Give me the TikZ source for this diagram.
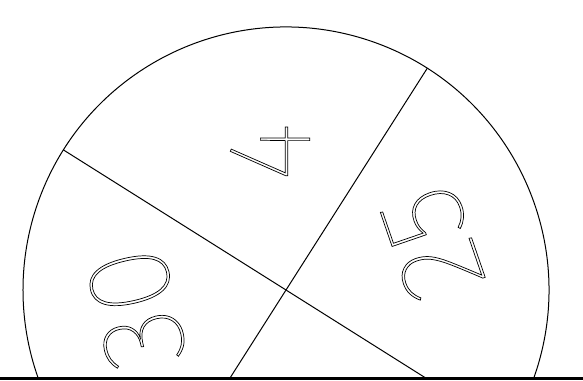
\documentclass[tikz,border=0pt]{standalone}
\usepackage{fontspec}
\IfFontExistsTF{Fira Sans Thin}{\newfontfamily\cifras{Fira Sans Thin}[FakeBold=0.6]}{%
 \IfFontExistsTF{Fira Sans Light}{\newfontfamily\cifras{Fira Sans Light}[FakeBold=0.6]}{%
  \newfontfamily\cifras{Fira Sans}[FakeBold=0.6]}}
% cifras huecas: relleno blanco y contorno negro
\newcommand{\hueca}[1]{\special{pdf:bcolor [1] [0]}#1\special{pdf:ecolor}}

\begin{document}
\begin{tikzpicture}[x=1pt, y=1pt, line cap=round,
    cifra/.style={font=\cifras\fontsize{118}{118}\selectfont, inner sep=0pt,
                  transform shape}]
    \useasboundingbox (0,0) rectangle (583,380);
    % --- rueda (circulo cortado por el suelo)
    \coordinate (c) at (286,90);
    \draw[line width=1pt] (533.8,2) arc[start angle=-19.55, end angle=199.55, radius=263];
    % --- divisiones
    \draw[line width=1pt] (63.4,230.1) -- (c) -- (425.7,2);
    \draw[line width=1pt] (427.3,311.8) -- (c) -- (230,2);
    % --- suelo
    \draw[line width=3pt, line cap=butt] (0,1.5) -- (583,1.5);
    % --- numeros de cada sector
    \node[cifra, rotate=90]  (n4)  at (270,228) {\hueca{4}};
    \node[cifra, rotate=109] (n25) at (432,137) {\hueca{25}};
    \node[cifra, rotate=103] (n30) at (136,72)  {\hueca{30}};
\end{tikzpicture}
\end{document}
